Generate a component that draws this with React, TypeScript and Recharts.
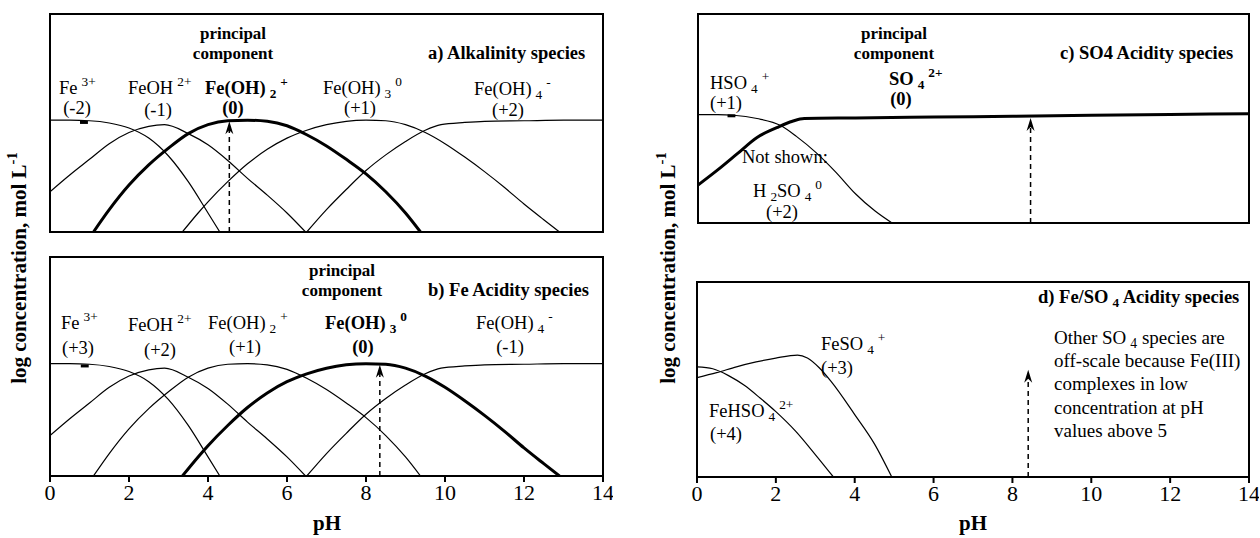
import React from "react";
import {
  LineChart,
  Line,
  XAxis,
  YAxis,
  ReferenceArea,
  ReferenceLine,
} from "recharts";

// pH ticks shared by all four panels
const PH_TICKS = [0, 2, 4, 6, 8, 10, 12, 14];

// [pH, relative log concentration]
// Fe species (same curves in panel a and b, only the principal one is bold)
const fe3 = [[0, 100], [0.5, 100], [1, 99.5], [1.5, 97.5], [2, 93], [2.5, 84], [3, 68], [3.5, 45], [4, 17], [4.3, 0]];
const feOH = [[0, 36], [0.5, 51], [1, 65], [1.5, 79], [2, 89], [2.5, 94.5], [2.9, 96], [3.5, 88], [4, 78], [4.5, 64], [5, 48], [5.5, 33], [6, 17], [6.47, 0]];
const feOH2 = [[1.1, 0], [1.5, 20], [2, 42], [2.5, 60], [3, 75], [3.5, 88], [4, 96], [4.5, 99.5], [5, 100], [5.5, 99], [6, 95], [6.5, 87], [7, 77], [7.5, 65], [8, 52], [8.5, 36], [9, 17], [9.38, 0]];
const feOH3 = [[3.35, 0], [3.75, 17], [4, 27], [4.5, 45], [5, 61], [5.5, 74], [6, 84], [6.5, 91], [7, 96], [7.5, 99], [8, 100], [8.5, 99.5], [9, 96], [9.5, 89], [10, 79], [10.5, 67], [11, 54], [11.5, 40], [12, 25], [12.5, 11], [12.9, 0]];
const feOH4 = [[6.5, 0], [7, 20], [7.5, 38], [8, 55], [8.5, 69], [9, 81], [9.5, 91], [9.9, 96], [10.5, 98], [11, 99], [12, 99.5], [13, 100], [14, 100]];

// SO4 species (panel c)
const hso4 = [[0, 100], [0.5, 100], [0.9, 99.5], [1.5, 96.5], [2.1, 90], [2.5, 80], [3, 65], [3.5, 47], [4, 27], [4.5, 11], [4.93, 0]];
const so4 = [[0, 35], [0.5, 49], [1, 64], [1.5, 79], [2, 88], [2.4, 94], [2.7, 96.5], [4, 97], [6, 97.8], [8, 98.6], [10, 99.4], [12, 100.2], [14, 101]];

// Fe/SO4 complexes (panel d)
const feso4 = [[0, 51], [0.5, 53.5], [1, 56.5], [1.5, 59], [2, 61], [2.55, 62.5], [2.8, 61], [3.1, 56], [3.4, 49], [4, 32], [4.5, 17], [4.94, 0]];
const fehso4 = [[0, 56.5], [0.4, 55.5], [0.8, 52], [1.2, 47], [1.6, 40.5], [2, 33.5], [2.5, 23.5], [3, 11.5], [3.46, 0]];

// principal component arrows: [pH, tip]
const arrowA = [4.54, 99];
const arrowB = [8.35, 99];
const arrowC = [8.45, 97];
const arrowD = [8.4, 55];

const FONT = "'Liberation Serif', 'Times New Roman', serif";

const toPts = (arr: number[][]) => arr.map(([ph, v]) => ({ ph, v }));

const ArrowShape = (p: any) => {
  const { x1, y1, x2, y2 } = p;
  return (
    <g>
      <line x1={x1} y1={y1} x2={x2} y2={y2 + 8} stroke="#000" strokeWidth={1.5} strokeDasharray="5 4" />
      <path d={`M${x2},${y2} L${x2 - 4},${y2 + 13} L${x2},${y2 + 9} L${x2 + 4},${y2 + 13} Z`} fill="#000" />
    </g>
  );
};

type Series = { data: number[][]; thick?: boolean };

function Panel({
  x, y, w, h, yMax, labels, series, arrow, dash,
}: {
  x: number; y: number; w: number; h: number; yMax: number; labels: boolean;
  series: Series[]; arrow: number[]; dash?: number[];
}) {
  const axisH = labels ? 40 : 12;
  return (
    <div style={{ position: "absolute", left: x - 10, top: y - 10 }}>
      <LineChart width={w + 20} height={h + 10 + axisH} margin={{ top: 10, right: 10, bottom: 0, left: 10 }}>
        <XAxis
          type="number"
          dataKey="ph"
          domain={[0, 14]}
          ticks={PH_TICKS}
          interval={0}
          allowDataOverflow
          height={axisH}
          axisLine={false}
          tickLine={{ stroke: "#000", strokeWidth: 2 }}
          tickSize={6}
          tickMargin={2}
          tick={labels ? { fill: "#000", fontSize: 22, fontFamily: FONT } : false}
        />
        <YAxis type="number" domain={[0, yMax]} hide allowDataOverflow />
        <ReferenceArea x1={0} x2={14} y1={0} y2={yMax} fill="none" stroke="#000" strokeWidth={2} fillOpacity={0} />
        {series.map((s, i) => (
          <Line
            key={i}
            data={toPts(s.data)}
            dataKey="v"
            type="monotone"
            stroke="#000"
            strokeWidth={s.thick ? 3 : 1.2}
            dot={false}
            isAnimationActive={false}
          />
        ))}
        {dash && (
          <ReferenceLine
            segment={[{ x: dash[0], y: dash[2] }, { x: dash[1], y: dash[2] }]}
            stroke="#000"
            strokeWidth={3}
          />
        )}
        <ReferenceLine
          segment={[{ x: arrow[0], y: 0 }, { x: arrow[0], y: arrow[1] }]}
          shape={ArrowShape}
        />
      </LineChart>
    </div>
  );
}

function T({
  x, y, size = 18.5, bold, center, children,
}: { x: number; y: number; size?: number; bold?: boolean; center?: boolean; children: React.ReactNode }) {
  return (
    <div
      style={{
        position: "absolute",
        left: x,
        top: y - size / 2,
        height: size,
        fontSize: size,
        lineHeight: 1,
        fontWeight: bold ? 700 : 400,
        whiteSpace: "nowrap",
        transform: center ? "translateX(-50%)" : undefined,
      }}
    >
      {children}
    </div>
  );
}

// raised / lowered small text that does not grow the line box
const sup = (s: string) => (
  <span style={{ fontSize: "0.72em", position: "relative", top: "-0.55em", marginLeft: 4 }}>{s}</span>
);
const sub = (s: string) => (
  <span style={{ fontSize: "0.72em", position: "relative", top: "0.3em", marginLeft: 4 }}>{s}</span>
);

export default function App() {
  return (
    <div style={{ position: "absolute", left: 0, top: 0, width: 1260, height: 538, background: "#fff", fontFamily: FONT, color: "#000" }}>
      <Panel x={50} y={14} w={553} h={218} yMax={195} labels={false} arrow={arrowA} dash={[0.76, 0.96, 98]}
        series={[{ data: fe3 }, { data: feOH }, { data: feOH2, thick: true }, { data: feOH3 }, { data: feOH4 }]} />
      <Panel x={50} y={257} w={553} h={219} yMax={195} labels arrow={arrowB} dash={[0.78, 0.98, 98]}
        series={[{ data: fe3 }, { data: feOH }, { data: feOH2 }, { data: feOH3, thick: true }, { data: feOH4 }]} />
      <Panel x={698} y={14} w={551} h={209} yMax={193} labels={false} arrow={arrowC} dash={[0.75, 0.95, 99]}
        series={[{ data: hso4 }, { data: so4, thick: true }]} />
      <Panel x={697} y={282} w={552} h={195} yMax={100} labels arrow={arrowD}
        series={[{ data: feso4 }, { data: fehso4 }]} />

      {/* y titles */}
      {[18, 667].map((cx) => (
        <div key={cx} style={{ position: "absolute", left: cx, top: 268, transform: "translate(-50%,-50%) rotate(-90deg)", fontSize: 21, fontWeight: 700, whiteSpace: "nowrap" }}>
          log concentration, mol L<span style={{ fontSize: "0.7em", verticalAlign: "0.6em" }}>-1</span>
        </div>
      ))}
      <T x={327} y={523} size={21} bold center>pH</T>
      <T x={973} y={523} size={21} bold center>pH</T>

      {/* panel a */}
      <T x={233} y={33} size={17} bold center>principal</T>
      <T x={233} y={53} size={17} bold center>component</T>
      <T x={428} y={53} bold>a) Alkalinity species</T>
      <T x={59} y={88}>Fe{sup("3+")}</T>
      <T x={77} y={108} center>(-2)</T>
      <T x={128} y={88}>FeOH{sup("2+")}</T>
      <T x={158} y={110} center>(-1)</T>
      <T x={205} y={88} bold>Fe(OH){sub("2")}{sup("+")}</T>
      <T x={233} y={108} bold center>(0)</T>
      <T x={323} y={88}>Fe(OH){sub("3")}{sup("0")}</T>
      <T x={360} y={108} center>(+1)</T>
      <T x={474} y={89}>Fe(OH){sub("4")}{sup("-")}</T>
      <T x={508} y={110} center>(+2)</T>

      {/* panel b */}
      <T x={342} y={270} size={17} bold center>principal</T>
      <T x={342} y={290} size={17} bold center>component</T>
      <T x={428} y={290} bold>b) Fe Acidity species</T>
      <T x={61} y={323}>Fe{sup("3+")}</T>
      <T x={78} y={348} center>(+3)</T>
      <T x={128} y={325}>FeOH{sup("2+")}</T>
      <T x={160} y={350} center>(+2)</T>
      <T x={208} y={323}>Fe(OH){sub("2")}{sup("+")}</T>
      <T x={245} y={347} center>(+1)</T>
      <T x={325} y={323} bold>Fe(OH){sub("3")}{sup("0")}</T>
      <T x={363} y={347} bold center>(0)</T>
      <T x={476} y={323}>Fe(OH){sub("4")}{sup("-")}</T>
      <T x={510} y={347} center>(-1)</T>

      {/* panel c */}
      <T x={894} y={33} size={17} bold center>principal</T>
      <T x={894} y={53} size={17} bold center>component</T>
      <T x={1060} y={53} bold>c) SO4 Acidity species</T>
      <T x={710} y={83}>HSO{sub("4")}{sup("+")}</T>
      <T x={710} y={103}>(+1)</T>
      <T x={889} y={79} bold>SO{sub("4")}{sup("2+")}</T>
      <T x={901} y={99} bold center>(0)</T>
      <T x={742} y={157}>Not shown:</T>
      <T x={753} y={191}>H{sub("2")}SO{sub("4")}{sup("0")}</T>
      <T x={782} y={212} center>(+2)</T>

      {/* panel d */}
      <T x={1038} y={297} bold>d) Fe/SO{sub("4")} Acidity species</T>
      <T x={821} y={344}>FeSO{sub("4")}{sup("+")}</T>
      <T x={821} y={368}>(+3)</T>
      <T x={709} y={411}>FeHSO{sub("4")}{sup("2+")}</T>
      <T x={710} y={434}>(+4)</T>
      <T x={1054} y={337} size={19}>Other SO{sub("4")} species are</T>
      <T x={1054} y={360} size={19}>off-scale because Fe(III)</T>
      <T x={1054} y={383} size={19}>complexes in low</T>
      <T x={1054} y={407} size={19}>concentration at pH</T>
      <T x={1054} y={430} size={19}>values above 5</T>
    </div>
  );
}
